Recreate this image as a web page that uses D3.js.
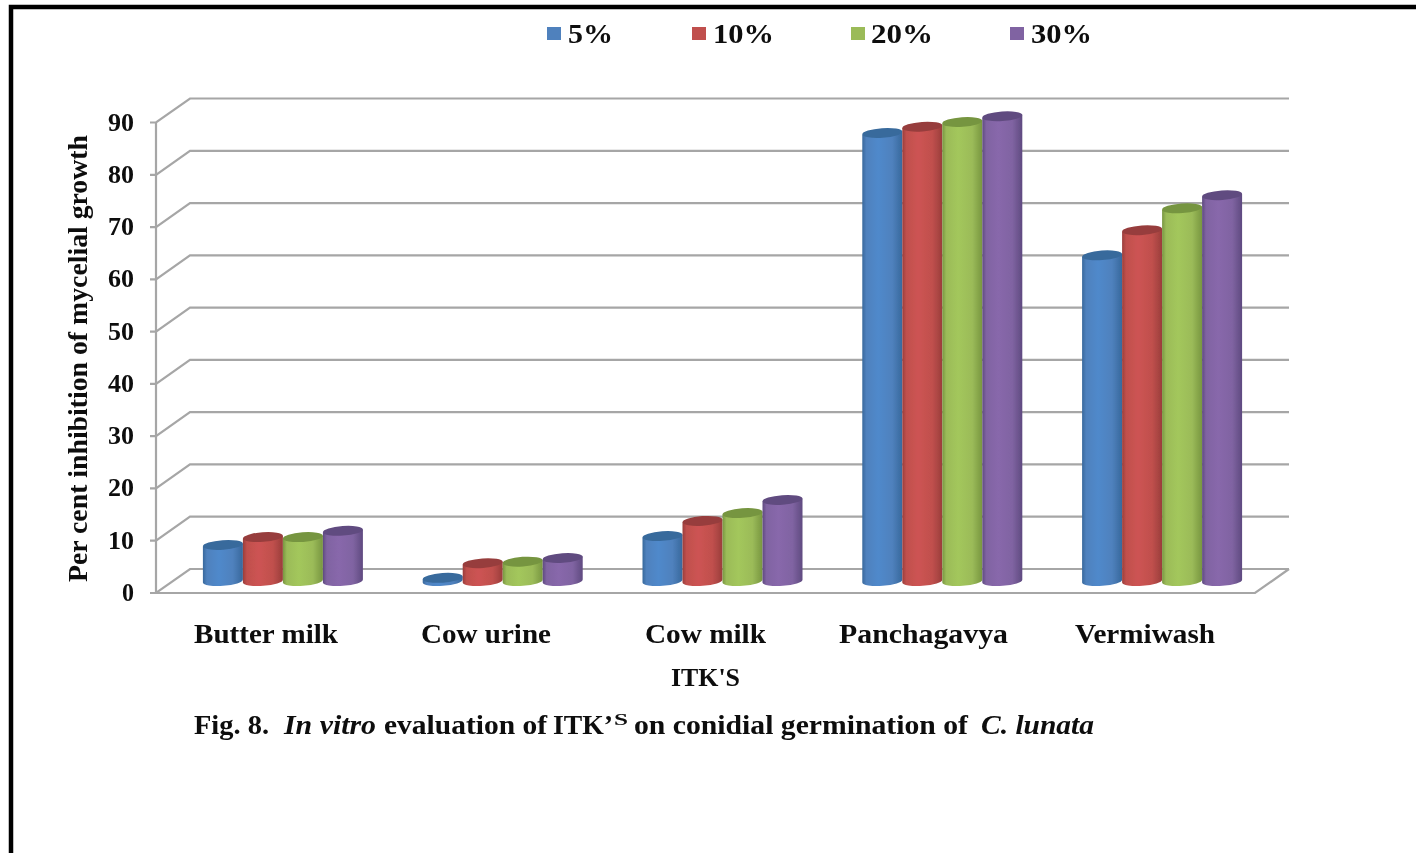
<!DOCTYPE html>
<html><head><meta charset="utf-8">
<script src="https://cdn.jsdelivr.net/npm/d3@7/dist/d3.min.js"></script>
<style>html,body{margin:0;padding:0;background:#fff}svg{display:block}text{font-family:"Liberation Serif",serif;font-weight:bold;fill:#0a0a0a}</style>
</head><body><svg id="c" width="1416" height="853"></svg>
<script>
const categories=["Butter milk","Cow urine","Cow milk","Panchagavya","Vermiwash"];
const seriesNames=["5%","10%","20%","30%"];
const s5=[6.9,0.6,8.6,85.7,62.3];
const s10=[8.4,3.4,11.5,86.9,67.1];
const s20=[8.4,3.7,13,87.8,71.3];
const s30=[9.6,4.4,15.5,88.9,73.8];
const seriesValues=[s5,s10,s20,s30];
const yTicks=[0,10,20,30,40,50,60,70,80,90];
const colors=["#4f81bd","#c0504d","#9bbb59","#8064a2"];
const mids=["#5089cb","#cd5353","#a3c75b","#8867ab"];
const darks=["#38689c","#9a3d3b","#789640","#5f4a80"];
const caps=["#386a9c","#973e3c","#76953f","#614b80"];

const svg=d3.select("#c");
const defs=svg.append("defs");
defs.append("filter").attr("id","soft").append("feGaussianBlur").attr("stdDeviation",0.7);
colors.forEach((c,i)=>{
  const g=defs.append("linearGradient").attr("id","g"+i);
  [[0,darks[i]],[0.1,c],[0.4,mids[i]],[0.75,c],[1,darks[i]]].forEach(([o,col])=>g.append("stop").attr("offset",o).attr("stop-color",col));
});
const root=svg.append("g").attr("filter","url(#soft)");
root.append("path").attr("d","M11,853V7H1416").attr("fill","none").attr("stroke","#000").attr("stroke-width",4.5);

const x0=156,x1=1255,dx=34,dy=-24;
const y=d3.scaleLinear().domain([0,90]).range([593,122.5]);
const x=d3.scaleBand().domain(categories).range([x0+dx/2,x1+dx/2]);
const grid="#a6a6a6";
const wall=root.append("g").attr("fill","none").attr("stroke",grid).attr("stroke-width",2.2);
yTicks.forEach(t=>{
  wall.append("path").attr("d",`M${x0-6},${y(t)}H${x0}L${x0+dx},${y(t)+dy}H${x1+dx}`);
});
wall.append("path").attr("d",`M${x0},${y(0)}V${y(90)}`);
wall.append("path").attr("d",`M${x0},${y(0)}H${x1}L${x1+dx},${y(0)+dy}`);

function label(sel,txt,xa,xb,base,size,italic){
  return sel.append("text").attr("x",xa).attr("y",base).attr("font-size",size)
    .attr("textLength",xb-xa).attr("lengthAdjust","spacingAndGlyphs")
    .attr("font-style",italic?"italic":"normal").attr("font-weight",italic?"normal":"bold").text(txt);
}
yTicks.forEach(t=>label(root,String(t),t?108:122,134,y(t)+8,25));

const barW=40,rx=20,ry=4.8;
const inner=d3.scaleBand().domain(d3.range(4)).range([0,160]);
const gx=c=>x(c)+x.bandwidth()/2-80;
const py=v=>y(v)+dy/2;
const rot=-4;
seriesValues.forEach((vals,i)=>{
  const g=root.append("g");
  categories.forEach((c,k)=>{
    const l=gx(c)+inner(i), r=l+barW, top=py(vals[k]), base=py(0), cx=(l+r)/2;
    const sl=rx*Math.tan(rot*Math.PI/180);
    g.append("path").attr("d",`M${l},${top-sl}L${l},${base-sl}A${rx},${ry} ${rot} 0 0 ${r},${base+sl}L${r},${top+sl}Z`).attr("fill",`url(#g${i})`);
    g.append("ellipse").attr("cx",cx).attr("cy",top).attr("rx",rx).attr("ry",ry)
     .attr("transform",`rotate(${rot} ${cx} ${top})`).attr("fill",caps[i]);
  });
});

const catSpan=[[194,338],[421,551],[645,766],[839,1008],[1075,1215]];
categories.forEach((c,i)=>label(root,c,catSpan[i][0],catSpan[i][1],643,27.5));
label(root,"ITK'S",671,740,686,24.5);
root.append("text").attr("transform","translate(87,582) rotate(-90)").attr("font-size",28)
  .attr("textLength",447).attr("lengthAdjust","spacingAndGlyphs").text("Per cent inhibition of mycelial growth");

const lx=[547,692,851,1010], ltx=[[568,613],[713,774],[871,933],[1031,1092]];
seriesNames.forEach((n,i)=>{
  root.append("rect").attr("x",lx[i]).attr("y",27).attr("width",14).attr("height",13).attr("fill",colors[i]);
  label(root,n,ltx[i][0],ltx[i][1],43,28);
});
label(root,"Fig. 8.",194,269,734,27);
label(root,"In vitro",284,376,734,27,true);
label(root,"evaluation of",384,547,734,27);
label(root,"ITK’",553,613,734,27);
label(root,"S",614,628,725,16);
label(root,"on conidial germination of",634,968,734,27);
label(root,"C. lunata",981,1094,734,27,true);
</script></body></html>
